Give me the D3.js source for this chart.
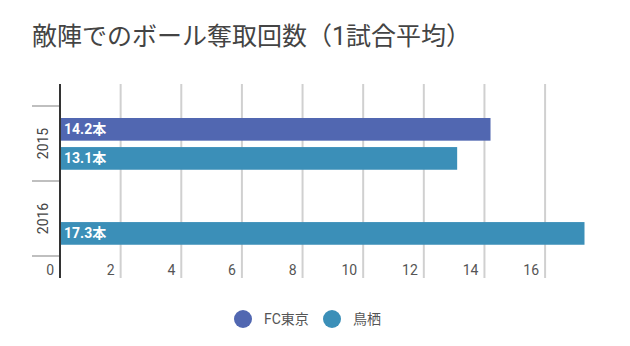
<!DOCTYPE html>
<html>
<head>
<meta charset="utf-8">
<script src="https://cdn.jsdelivr.net/npm/d3@7/dist/d3.min.js"></script>
<style>
  html, body { margin: 0; padding: 0; background: #fff; }
  svg { display: block; }
  text { font-family: Roboto, "Noto Sans CJK JP", sans-serif; }
</style>
</head>
<body>
<svg id="chart" width="630" height="346"></svg>
<script>
const title = "敵陣でのボール奪取回数（1試合平均）";
const categories = ["2015", "2016"];
const seriesNames = ["FC東京", "鳥栖"];
const fcTokyo = [14.2, null];
const tosu = [13.1, 17.3];
const xTicks = [0, 2, 4, 6, 8, 10, 12, 14, 16];
const unit = "本";
const colors = ["#5167b1", "#3b8fb8"];

(function () {
const series = [fcTokyo, tosu];
const svg = d3.select("#chart");

svg.append("text")
  .attr("x", 32).attr("y", 45)
  .attr("font-family", "'Noto Sans CJK JP', sans-serif")
  .attr("font-size", 25)
  .attr("fill", "#444")
  .text(title);

const x = d3.scaleLinear().domain([0, 17.3]).range([60, 584.5]);
const y = d3.scaleBand().domain(categories).range([106, 256]);
const yInner = d3.scaleBand().domain(seriesNames)
  .range([y.bandwidth() * 0.16, y.bandwidth() * 0.85]).paddingInner(0.22);

const plotTop = 84, plotBottom = 278;

// gridlines
svg.append("g").selectAll("line").data(xTicks.filter(d => d > 0)).join("line")
  .attr("x1", d => x(d)).attr("x2", d => x(d))
  .attr("y1", plotTop).attr("y2", plotBottom)
  .attr("stroke", "#d0d0d0").attr("stroke-width", 2);

// x tick labels
svg.append("g").selectAll("text").data(xTicks).join("text")
  .attr("x", d => x(d) - 6).attr("y", 275)
  .attr("text-anchor", "end")
  .attr("font-size", 14).attr("fill", "#555")
  .text(d => d);

// category ticks
const bounds = [...categories.map(c => y(c)), y(categories[categories.length - 1]) + y.bandwidth()];
svg.append("g").selectAll("line").data(bounds).join("line")
  .attr("x1", 32).attr("x2", 60)
  .attr("y1", d => d).attr("y2", d => d)
  .attr("stroke", "#aaa").attr("stroke-width", 1.5);

// category labels
svg.append("g").selectAll("text").data(categories).join("text")
  .attr("transform", d => `translate(48,${y(d) + y.bandwidth() / 2}) rotate(-90)`)
  .attr("text-anchor", "middle")
  .attr("font-size", 14).attr("fill", "#444")
  .text(d => d);

// bars
const barData = [];
categories.forEach((c, i) => {
  seriesNames.forEach((s, j) => {
    const v = series[j][i];
    if (v != null) barData.push({ c, s, v, j });
  });
});

const bars = svg.append("g");
bars.selectAll("rect").data(barData).join("rect")
  .attr("x", x(0))
  .attr("y", d => y(d.c) + yInner(d.s))
  .attr("width", d => x(d.v) - x(0))
  .attr("height", yInner.bandwidth())
  .attr("fill", d => colors[d.j]);

bars.selectAll("text").data(barData).join("text")
  .attr("x", x(0) + 4)
  .attr("y", d => y(d.c) + yInner(d.s) + yInner.bandwidth() / 2)
  .attr("dy", "0.36em")
  .attr("font-size", 14).attr("font-weight", "bold").attr("fill", "#fff")
  .text(d => d.v.toFixed(1) + unit);

// axis line
svg.append("line")
  .attr("x1", 60).attr("x2", 60).attr("y1", plotTop).attr("y2", plotBottom)
  .attr("stroke", "#333").attr("stroke-width", 2);

// legend
const legendX = [243, 332];
const lg = svg.append("g");
seriesNames.forEach((s, i) => {
  lg.append("circle").attr("cx", legendX[i]).attr("cy", 319).attr("r", 9).attr("fill", colors[i]);
  lg.append("text").attr("x", legendX[i] + 21).attr("y", 319).attr("dy", "0.36em")
    .attr("font-size", 14).attr("fill", "#555").text(s);
});
})();
</script>
</body>
</html>
